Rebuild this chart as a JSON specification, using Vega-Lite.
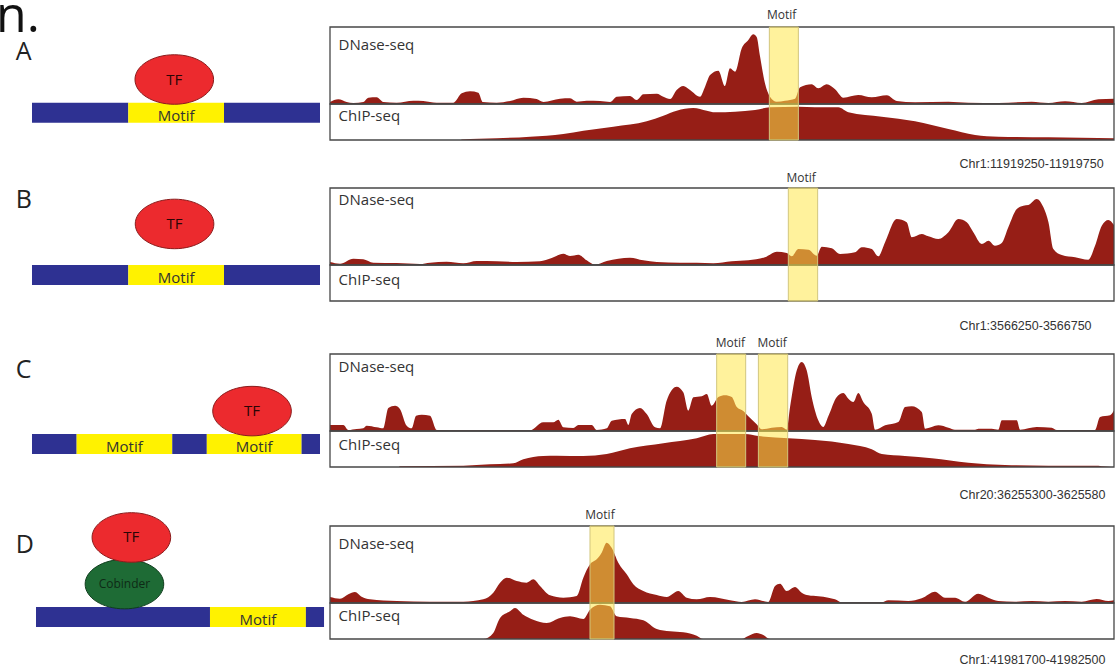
{
"$schema":"https://vega.github.io/schema/vega-lite/v6.json",
"background":"white","padding":0,"autosize":{"type":"pad"},
"columns":2,"spacing":{"row":0,"column":10},"align":"each","bounds":"flush",
"config":{"view":{"stroke":null},"font":"Open Sans"},
"datasets":{
"segments":[
{"row":"A","kind":"DNA","start":0,"end":33.44},{"row":"A","kind":"Motif","start":33.44,"end":66.67,"mid":50.06},{"row":"A","kind":"DNA","start":66.67,"end":100},
{"row":"B","kind":"DNA","start":0,"end":33.44},{"row":"B","kind":"Motif","start":33.44,"end":66.67,"mid":50.06},{"row":"B","kind":"DNA","start":66.67,"end":100},
{"row":"C","kind":"DNA","start":0,"end":15.5},{"row":"C","kind":"Motif","start":15.5,"end":48.7,"mid":32.1},{"row":"C","kind":"DNA","start":48.7,"end":60.7},{"row":"C","kind":"Motif","start":60.7,"end":93.6,"mid":77.15},{"row":"C","kind":"DNA","start":93.6,"end":100},
{"row":"D","kind":"DNA","start":1.39,"end":61.8},{"row":"D","kind":"Motif","start":61.8,"end":95.1,"mid":78.45},{"row":"D","kind":"DNA","start":95.1,"end":101.4}
],
"proteins":[
{"row":"A","name":"TF","x":49.4,"y":15.0},{"row":"B","name":"TF","x":49.5,"y":21.2},{"row":"C","name":"TF","x":76.4,"y":14.9},
{"row":"D","name":"Cobinder","x":32.1,"y":14.9},{"row":"D","name":"TF","x":34.5,"y":31.1}
],
"motifs":[
{"row":"A","label":"Motif","start":280.2,"end":298.7,"center":288},
{"row":"B","label":"Motif","start":292.3,"end":311.0,"center":300.5},
{"row":"C","label":"Motif","start":246.6,"end":265.1,"center":255.3},
{"row":"C","label":"Motif","start":273.2,"end":291.9,"center":282},
{"row":"D","label":"Motif","start":265.3,"end":289.8,"center":275.5}
],
"dnase":[
{"row":"A","bp":0,"signal":2},{"row":"A","bp":5.3,"signal":4.7},{"row":"A","bp":10.6,"signal":2},{"row":"A","bp":14.9,"signal":1},{"row":"A","bp":21.3,"signal":2},{"row":"A","bp":24.5,"signal":6.3},{"row":"A","bp":29.8,"signal":6.7},{"row":"A","bp":34,"signal":2},{"row":"A","bp":42.5,"signal":1.3},{"row":"A","bp":53.2,"signal":3.3},{"row":"A","bp":59.5,"signal":3},{"row":"A","bp":68,"signal":1.3},{"row":"A","bp":78.7,"signal":1.3},{"row":"A","bp":84,"signal":10.7},{"row":"A","bp":89.3,"signal":12.7},{"row":"A","bp":94.6,"signal":11.3},{"row":"A","bp":97.4,"signal":2},{"row":"A","bp":106.3,"signal":1.3},{"row":"A","bp":114.8,"signal":3},{"row":"A","bp":123.3,"signal":6.3},{"row":"A","bp":131.8,"signal":5},{"row":"A","bp":136.1,"signal":2},{"row":"A","bp":146.7,"signal":5.3},{"row":"A","bp":153.1,"signal":5.7},{"row":"A","bp":157.3,"signal":2.3},{"row":"A","bp":163.7,"signal":3.3},{"row":"A","bp":172.2,"signal":3},{"row":"A","bp":178.6,"signal":2},{"row":"A","bp":182.9,"signal":7.3},{"row":"A","bp":191.3,"signal":8},{"row":"A","bp":195.6,"signal":4},{"row":"A","bp":199.8,"signal":9.7},{"row":"A","bp":208.4,"signal":10.3},{"row":"A","bp":212.6,"signal":7.3},{"row":"A","bp":216.9,"signal":5},{"row":"A","bp":221.1,"signal":14},{"row":"A","bp":225.3,"signal":18},{"row":"A","bp":229.6,"signal":14},{"row":"A","bp":236,"signal":7.3},{"row":"A","bp":239.2,"signal":17.3},{"row":"A","bp":242.4,"signal":29},{"row":"A","bp":247.7,"signal":33.3},{"row":"A","bp":251.9,"signal":18},{"row":"A","bp":255.1,"signal":35.7},{"row":"A","bp":258.3,"signal":32.3},{"row":"A","bp":262.6,"signal":55.7},{"row":"A","bp":266.8,"signal":64},{"row":"A","bp":270,"signal":69.7},{"row":"A","bp":272.1,"signal":67},{"row":"A","bp":274.3,"signal":47.3},{"row":"A","bp":277.4,"signal":20.7},{"row":"A","bp":280.6,"signal":7.3},{"row":"A","bp":284.9,"signal":2.3},{"row":"A","bp":290.2,"signal":3.3},{"row":"A","bp":296.6,"signal":5.3},{"row":"A","bp":299.8,"signal":16.7},{"row":"A","bp":307.2,"signal":19.7},{"row":"A","bp":311.4,"signal":15.7},{"row":"A","bp":316.8,"signal":19.7},{"row":"A","bp":322.1,"signal":14.7},{"row":"A","bp":327.4,"signal":6.3},{"row":"A","bp":336.9,"signal":9},{"row":"A","bp":345.5,"signal":6.7},{"row":"A","bp":355.1,"signal":8.7},{"row":"A","bp":361.4,"signal":3},{"row":"A","bp":373.1,"signal":1.7},{"row":"A","bp":394.4,"signal":2.3},{"row":"A","bp":407.1,"signal":1.3},{"row":"A","bp":426.3,"signal":1},{"row":"A","bp":447.5,"signal":2.3},{"row":"A","bp":458.2,"signal":1},{"row":"A","bp":468.8,"signal":2.7},{"row":"A","bp":479.4,"signal":1},{"row":"A","bp":490,"signal":4.7},{"row":"A","bp":500,"signal":5.3},
{"row":"B","bp":0,"signal":3},{"row":"B","bp":6.4,"signal":1.3},{"row":"B","bp":14.9,"signal":6.3},{"row":"B","bp":21.2,"signal":5.7},{"row":"B","bp":27.6,"signal":2.3},{"row":"B","bp":42.5,"signal":2},{"row":"B","bp":57.4,"signal":1},{"row":"B","bp":63.8,"signal":2.3},{"row":"B","bp":74.4,"signal":3.3},{"row":"B","bp":85,"signal":1.7},{"row":"B","bp":93.6,"signal":4},{"row":"B","bp":106.3,"signal":3.7},{"row":"B","bp":119.1,"signal":3},{"row":"B","bp":133.9,"signal":3.7},{"row":"B","bp":141.4,"signal":7},{"row":"B","bp":148.8,"signal":11.3},{"row":"B","bp":153.1,"signal":9},{"row":"B","bp":158.4,"signal":10.3},{"row":"B","bp":163.7,"signal":4.7},{"row":"B","bp":169,"signal":0.3},{"row":"B","bp":176.5,"signal":4},{"row":"B","bp":191.3,"signal":7.3},{"row":"B","bp":199.8,"signal":4.7},{"row":"B","bp":208.4,"signal":3},{"row":"B","bp":223.2,"signal":2.3},{"row":"B","bp":233.9,"signal":2.3},{"row":"B","bp":244.5,"signal":1.7},{"row":"B","bp":256.2,"signal":3.7},{"row":"B","bp":266.8,"signal":4.7},{"row":"B","bp":277.4,"signal":7.7},{"row":"B","bp":284.9,"signal":13.3},{"row":"B","bp":291.3,"signal":12},{"row":"B","bp":294.5,"signal":8.7},{"row":"B","bp":298.7,"signal":16},{"row":"B","bp":305.1,"signal":15.3},{"row":"B","bp":310.4,"signal":9.3},{"row":"B","bp":313.6,"signal":18.3},{"row":"B","bp":320,"signal":16.7},{"row":"B","bp":325.3,"signal":11},{"row":"B","bp":334.8,"signal":12.7},{"row":"B","bp":339.1,"signal":17.7},{"row":"B","bp":345.5,"signal":16},{"row":"B","bp":349.7,"signal":8.7},{"row":"B","bp":354,"signal":22.7},{"row":"B","bp":361.4,"signal":46},{"row":"B","bp":367.8,"signal":42.7},{"row":"B","bp":371,"signal":27.7},{"row":"B","bp":377.4,"signal":31},{"row":"B","bp":381.6,"signal":28.7},{"row":"B","bp":388,"signal":26},{"row":"B","bp":394.4,"signal":32.7},{"row":"B","bp":400.7,"signal":46},{"row":"B","bp":406.1,"signal":42.7},{"row":"B","bp":410.3,"signal":32.7},{"row":"B","bp":415.7,"signal":21},{"row":"B","bp":419.9,"signal":24.3},{"row":"B","bp":424.1,"signal":19.3},{"row":"B","bp":428.4,"signal":22},{"row":"B","bp":432.6,"signal":37.7},{"row":"B","bp":438,"signal":56},{"row":"B","bp":442.2,"signal":59.3},{"row":"B","bp":445.4,"signal":60},{"row":"B","bp":450.7,"signal":66},{"row":"B","bp":455,"signal":57.7},{"row":"B","bp":458.2,"signal":42.7},{"row":"B","bp":461.3,"signal":16},{"row":"B","bp":466.7,"signal":10},{"row":"B","bp":475.2,"signal":7.7},{"row":"B","bp":483.6,"signal":5.3},{"row":"B","bp":487.9,"signal":19.3},{"row":"B","bp":492.2,"signal":39.3},{"row":"B","bp":496.4,"signal":45},{"row":"B","bp":500,"signal":40},
{"row":"C","bp":0,"signal":6},{"row":"C","bp":8.5,"signal":6},{"row":"C","bp":11.7,"signal":1},{"row":"C","bp":17,"signal":2},{"row":"C","bp":21.2,"signal":2.7},{"row":"C","bp":23.4,"signal":5.3},{"row":"C","bp":29.8,"signal":3.7},{"row":"C","bp":34,"signal":2.7},{"row":"C","bp":37.2,"signal":23},{"row":"C","bp":41.5,"signal":25.3},{"row":"C","bp":44.6,"signal":22},{"row":"C","bp":48.9,"signal":5.3},{"row":"C","bp":52.1,"signal":2.7},{"row":"C","bp":54.9,"signal":15.3},{"row":"C","bp":58.5,"signal":16.3},{"row":"C","bp":63.8,"signal":15.3},{"row":"C","bp":68.1,"signal":1},{"row":"C","bp":85,"signal":0.7},{"row":"C","bp":106.3,"signal":0.7},{"row":"C","bp":127.6,"signal":0.7},{"row":"C","bp":136,"signal":8.7},{"row":"C","bp":142.4,"signal":8.7},{"row":"C","bp":145.6,"signal":11.3},{"row":"C","bp":148.8,"signal":3.7},{"row":"C","bp":155.2,"signal":3},{"row":"C","bp":158.4,"signal":6},{"row":"C","bp":166.9,"signal":6},{"row":"C","bp":170.1,"signal":1},{"row":"C","bp":176.5,"signal":2.7},{"row":"C","bp":179.7,"signal":10.3},{"row":"C","bp":188.2,"signal":12},{"row":"C","bp":190.3,"signal":6},{"row":"C","bp":192.4,"signal":17},{"row":"C","bp":197.7,"signal":23},{"row":"C","bp":202,"signal":17},{"row":"C","bp":207.3,"signal":3.7},{"row":"C","bp":210.5,"signal":2.7},{"row":"C","bp":214.7,"signal":30.3},{"row":"C","bp":221.1,"signal":44.3},{"row":"C","bp":225.3,"signal":38.7},{"row":"C","bp":228.5,"signal":20.3},{"row":"C","bp":231.7,"signal":33.7},{"row":"C","bp":237.1,"signal":34.7},{"row":"C","bp":240.3,"signal":37},{"row":"C","bp":243.4,"signal":25.3},{"row":"C","bp":247.7,"signal":34},{"row":"C","bp":251.9,"signal":35.7},{"row":"C","bp":256.2,"signal":34},{"row":"C","bp":259.4,"signal":24},{"row":"C","bp":263.6,"signal":20},{"row":"C","bp":266.8,"signal":14.7},{"row":"C","bp":272.1,"signal":6.7},{"row":"C","bp":275.3,"signal":1.7},{"row":"C","bp":281.7,"signal":3.3},{"row":"C","bp":288.1,"signal":4},{"row":"C","bp":291.3,"signal":1.3},{"row":"C","bp":293.4,"signal":24},{"row":"C","bp":297.7,"signal":60.7},{"row":"C","bp":300.8,"signal":69},{"row":"C","bp":304,"signal":60.7},{"row":"C","bp":307.2,"signal":34},{"row":"C","bp":311.4,"signal":10.7},{"row":"C","bp":314.6,"signal":4},{"row":"C","bp":317.8,"signal":14.7},{"row":"C","bp":323.2,"signal":34},{"row":"C","bp":327.4,"signal":38},{"row":"C","bp":330.6,"signal":32.3},{"row":"C","bp":333.8,"signal":29},{"row":"C","bp":336.9,"signal":38},{"row":"C","bp":340.1,"signal":29},{"row":"C","bp":345.5,"signal":17.3},{"row":"C","bp":347.6,"signal":1.3},{"row":"C","bp":354,"signal":5.7},{"row":"C","bp":362.5,"signal":9},{"row":"C","bp":366.7,"signal":24},{"row":"C","bp":371,"signal":24.7},{"row":"C","bp":377.4,"signal":19},{"row":"C","bp":379.5,"signal":2.3},{"row":"C","bp":388,"signal":5.7},{"row":"C","bp":394.4,"signal":3.3},{"row":"C","bp":398.6,"signal":1.3},{"row":"C","bp":411.4,"signal":1.3},{"row":"C","bp":413.5,"signal":2.3},{"row":"C","bp":422,"signal":2.3},{"row":"C","bp":426.2,"signal":1.3},{"row":"C","bp":428.4,"signal":10.7},{"row":"C","bp":438,"signal":10.7},{"row":"C","bp":440.1,"signal":1.3},{"row":"C","bp":450.7,"signal":4},{"row":"C","bp":460.3,"signal":3.3},{"row":"C","bp":463.5,"signal":1},{"row":"C","bp":487.9,"signal":1},{"row":"C","bp":491.1,"signal":14},{"row":"C","bp":497.5,"signal":15.7},{"row":"C","bp":500,"signal":20.7},
{"row":"D","bp":0,"signal":6},{"row":"D","bp":10.2,"signal":4.3},{"row":"D","bp":18.7,"signal":8.7},{"row":"D","bp":25.5,"signal":11},{"row":"D","bp":32.3,"signal":6.3},{"row":"D","bp":40.8,"signal":3.7},{"row":"D","bp":68.1,"signal":2},{"row":"D","bp":102,"signal":1.3},{"row":"D","bp":136,"signal":1.3},{"row":"D","bp":156.4,"signal":3.7},{"row":"D","bp":166.6,"signal":10.3},{"row":"D","bp":173.5,"signal":20.3},{"row":"D","bp":180.3,"signal":25.3},{"row":"D","bp":190.5,"signal":22},{"row":"D","bp":200.7,"signal":20.3},{"row":"D","bp":207.4,"signal":23.7},{"row":"D","bp":214.3,"signal":17},{"row":"D","bp":224.5,"signal":7.7},{"row":"D","bp":238.1,"signal":5.3},{"row":"D","bp":251.7,"signal":7},{"row":"D","bp":258.5,"signal":25.3},{"row":"D","bp":265.3,"signal":38.7},{"row":"D","bp":272.1,"signal":43.7},{"row":"D","bp":277.2,"signal":50.3},{"row":"D","bp":282.3,"signal":60.3},{"row":"D","bp":287.4,"signal":55.3},{"row":"D","bp":294.2,"signal":40.3},{"row":"D","bp":302.8,"signal":28.7},{"row":"D","bp":309.5,"signal":18.7},{"row":"D","bp":319.7,"signal":12},{"row":"D","bp":333.4,"signal":8},{"row":"D","bp":343.6,"signal":6},{"row":"D","bp":355.4,"signal":12},{"row":"D","bp":364,"signal":5.3},{"row":"D","bp":374.2,"signal":3.7},{"row":"D","bp":387.8,"signal":6},{"row":"D","bp":408.2,"signal":2.7},{"row":"D","bp":420.1,"signal":1},{"row":"D","bp":433.7,"signal":3.7},{"row":"D","bp":447.2,"signal":1},{"row":"D","bp":454.1,"signal":17},{"row":"D","bp":459.2,"signal":19.3},{"row":"D","bp":466,"signal":12},{"row":"D","bp":474.5,"signal":16},{"row":"D","bp":481.3,"signal":10.3},{"row":"D","bp":488.1,"signal":7.7},{"row":"D","bp":498.3,"signal":6.7},{"row":"D","bp":508.5,"signal":5.3},{"row":"D","bp":515.3,"signal":3.7},{"row":"D","bp":522.1,"signal":0.7},{"row":"D","bp":563,"signal":0.7},{"row":"D","bp":569.7,"signal":2.7},{"row":"D","bp":590.1,"signal":2},{"row":"D","bp":603.8,"signal":4.7},{"row":"D","bp":617.3,"signal":11.3},{"row":"D","bp":627.6,"signal":5.3},{"row":"D","bp":637.8,"signal":5.3},{"row":"D","bp":648,"signal":1.3},{"row":"D","bp":661.5,"signal":9.3},{"row":"D","bp":671.7,"signal":5.3},{"row":"D","bp":681.9,"signal":2},{"row":"D","bp":699,"signal":1.3},{"row":"D","bp":716,"signal":2},{"row":"D","bp":733,"signal":1.3},{"row":"D","bp":750,"signal":2},{"row":"D","bp":767,"signal":1.3},{"row":"D","bp":782.3,"signal":4},{"row":"D","bp":794.2,"signal":2},{"row":"D","bp":800,"signal":2.7}
],
"chip":[
{"row":"A","bp":0,"signal":0},{"row":"A","bp":83.5,"signal":0},{"row":"A","bp":84,"signal":0.5},{"row":"A","bp":106.3,"signal":1.7},{"row":"A","bp":127.6,"signal":3.3},{"row":"A","bp":148.8,"signal":6},{"row":"A","bp":161.6,"signal":9.3},{"row":"A","bp":180.7,"signal":13.3},{"row":"A","bp":202,"signal":18.7},{"row":"A","bp":212.6,"signal":24.3},{"row":"A","bp":221.1,"signal":29.3},{"row":"A","bp":231.7,"signal":32},{"row":"A","bp":240.3,"signal":29.3},{"row":"A","bp":245.6,"signal":27.7},{"row":"A","bp":258.3,"signal":28.3},{"row":"A","bp":271.1,"signal":30},{"row":"A","bp":280.6,"signal":32.7},{"row":"A","bp":298.7,"signal":33.3},{"row":"A","bp":309.3,"signal":32.7},{"row":"A","bp":324.2,"signal":32.7},{"row":"A","bp":330.6,"signal":27.7},{"row":"A","bp":351.9,"signal":23.3},{"row":"A","bp":373.1,"signal":18.7},{"row":"A","bp":394.4,"signal":11},{"row":"A","bp":411.4,"signal":5},{"row":"A","bp":426.3,"signal":3.3},{"row":"A","bp":458.2,"signal":2.7},{"row":"A","bp":479.4,"signal":2.3},{"row":"A","bp":500,"signal":1.7},
{"row":"C","bp":0,"signal":0},{"row":"C","bp":44,"signal":0},{"row":"C","bp":44.6,"signal":0.7},{"row":"C","bp":85,"signal":1.3},{"row":"C","bp":102,"signal":2.7},{"row":"C","bp":116.9,"signal":3.7},{"row":"C","bp":123.3,"signal":7.7},{"row":"C","bp":136,"signal":11},{"row":"C","bp":144.6,"signal":11.3},{"row":"C","bp":161.6,"signal":11},{"row":"C","bp":176.5,"signal":13},{"row":"C","bp":191.3,"signal":18.7},{"row":"C","bp":212.6,"signal":23.7},{"row":"C","bp":233.9,"signal":28.7},{"row":"C","bp":244.5,"signal":33},{"row":"C","bp":264.7,"signal":33},{"row":"C","bp":273.2,"signal":31},{"row":"C","bp":292.3,"signal":28.7},{"row":"C","bp":309.3,"signal":27},{"row":"C","bp":330.6,"signal":23},{"row":"C","bp":345.5,"signal":17.7},{"row":"C","bp":351.9,"signal":13},{"row":"C","bp":366.7,"signal":11},{"row":"C","bp":383.8,"signal":8.7},{"row":"C","bp":407.1,"signal":4.3},{"row":"C","bp":430.5,"signal":2},{"row":"C","bp":458.2,"signal":1.3},{"row":"C","bp":487.9,"signal":1.3},{"row":"C","bp":496.4,"signal":0.3},{"row":"C","bp":500,"signal":0},
{"row":"D","bp":0,"signal":0},{"row":"D","bp":156.4,"signal":0},{"row":"D","bp":166.6,"signal":6},{"row":"D","bp":173.5,"signal":21},{"row":"D","bp":183.7,"signal":27.7},{"row":"D","bp":188.8,"signal":31},{"row":"D","bp":197.2,"signal":24.3},{"row":"D","bp":207.4,"signal":19.3},{"row":"D","bp":221.1,"signal":16},{"row":"D","bp":234.7,"signal":21},{"row":"D","bp":244.9,"signal":22.7},{"row":"D","bp":258.5,"signal":20},{"row":"D","bp":265.3,"signal":29.3},{"row":"D","bp":275.5,"signal":34.3},{"row":"D","bp":285.7,"signal":32.7},{"row":"D","bp":292.5,"signal":22.7},{"row":"D","bp":306.1,"signal":21},{"row":"D","bp":319.7,"signal":18.7},{"row":"D","bp":333.4,"signal":10},{"row":"D","bp":347,"signal":7.7},{"row":"D","bp":360.5,"signal":6.7},{"row":"D","bp":374.2,"signal":3.3},{"row":"D","bp":380.9,"signal":0},{"row":"D","bp":420.1,"signal":0},{"row":"D","bp":426.8,"signal":3},{"row":"D","bp":435.4,"signal":6},{"row":"D","bp":442.1,"signal":4},{"row":"D","bp":449,"signal":0},{"row":"D","bp":800,"signal":0}
]
},
"concat":[
{"width":320,"height":166,"layer":[
 {"data":{"name":"segments"},"transform":[{"filter":"datum.row==='A'"}],"mark":{"type":"rect"},"encoding":{"x":{"field":"start","type":"quantitative","scale":{"domain":[-11.11,100]},"axis":null},"x2":{"field":"end"},"y":{"datum":0,"type":"quantitative","scale":{"domain":[-15.03,42.6]},"axis":null},"y2":{"datum":6.94},"color":{"field":"kind","type":"nominal","scale":{"domain":["DNA","Motif"],"range":["#2e3192","#fff200"]},"legend":null}}},
 {"data":{"name":"segments"},"transform":[{"filter":"datum.row==='A' && datum.kind==='Motif'"}],"mark":{"type":"text","fontSize":15,"color":"#333","baseline":"alphabetic"},"encoding":{"x":{"field":"mid","type":"quantitative","scale":{"domain":[-11.11,100]},"axis":null},"y":{"datum":0.6,"type":"quantitative","scale":{"domain":[-15.03,42.6]},"axis":null},"text":{"field":"kind"}}},
 {"data":{"name":"proteins"},"transform":[{"filter":"datum.row==='A'"}],"mark":{"type":"point","shape":"M-1,0A1,0.63,0,1,1,1,0A1,0.63,0,1,1,-1,0Z","size":6178,"filled":true,"opacity":1,"strokeWidth":1},"encoding":{"x":{"field":"x","type":"quantitative","scale":{"domain":[-11.11,100]},"axis":null},"y":{"field":"y","type":"quantitative","scale":{"domain":[-15.03,42.6]},"axis":null},"fill":{"field":"name","type":"nominal","scale":{"domain":["TF","Cobinder"],"range":["#ec2a2e","#1e6b35"]},"legend":null},"stroke":{"field":"name","type":"nominal","scale":{"domain":["TF","Cobinder"],"range":["#8a1c1c","#0f3d1d"]},"legend":null}}},
 {"data":{"name":"proteins"},"transform":[{"filter":"datum.row==='A'"}],"mark":{"type":"text","fontSize":15,"color":"#2a0505","baseline":"middle"},"encoding":{"x":{"field":"x","type":"quantitative","scale":{"domain":[-11.11,100]},"axis":null},"y":{"field":"y","type":"quantitative","scale":{"domain":[-15.03,42.6]},"axis":null},"text":{"field":"name"}}},
 {"data":{"values":[{"label":"A"}]},"mark":{"type":"text","fontSize":25,"color":"#222","align":"left","baseline":"alphabetic"},"encoding":{"x":{"datum":-5.6,"type":"quantitative","scale":{"domain":[-11.11,100]},"axis":null},"y":{"datum":21.8,"type":"quantitative","scale":{"domain":[-15.03,42.6]},"axis":null},"text":{"field":"label"}}},
 {"data":{"values":[{"label":"n."}]},"mark":{"type":"text","fontSize":50,"color":"#111","align":"left","baseline":"alphabetic","clip":true},"encoding":{"x":{"datum":-12.5,"type":"quantitative","scale":{"domain":[-11.11,100]},"axis":null},"y":{"datum":31.5,"type":"quantitative","scale":{"domain":[-15.03,42.6]},"axis":null},"text":{"field":"label"}}}
]},
{"width":784,"height":140,"resolve":{"scale":{"y":"independent"}},"layer":[
 {"data":{"name":"dnase"},"transform":[{"filter":"datum.row==='A'"}],"mark":{"type":"area","color":"#961e16","interpolate":"monotone"},"encoding":{"x":{"field":"bp","type":"quantitative","scale":{"domain":[0,500]},"axis":{"title":"Chr1:11919250-11919750","labels":false,"ticks":false,"domain":false,"grid":false,"titleX":629,"titleY":27.7,"titleAlign":"left","titleBaseline":"alphabetic","titleFont":"Liberation Sans","titleFontSize":12.5,"titleFontWeight":"normal","titleColor":"#333"}},"y":{"field":"signal","type":"quantitative","scale":{"domain":[-36,104]},"axis":null}}},
 {"data":{"name":"chip"},"transform":[{"filter":"datum.row==='A'"}],"mark":{"type":"area","color":"#961e16","interpolate":"monotone"},"encoding":{"x":{"field":"bp","type":"quantitative","scale":{"domain":[0,500]},"axis":{"title":"Chr1:11919250-11919750","labels":false,"ticks":false,"domain":false,"grid":false,"titleX":629,"titleY":27.7,"titleAlign":"left","titleBaseline":"alphabetic","titleFont":"Liberation Sans","titleFontSize":12.5,"titleFontWeight":"normal","titleColor":"#333"}},"y":{"field":"signal","type":"quantitative","scale":{"domain":[0,140]},"axis":null}}},
 {"data":{"values":[{"track":"DNase-seq"}]},"mark":{"type":"rect","filled":false,"stroke":"#474747","strokeWidth":1.3},"encoding":{"x":{"datum":0,"type":"quantitative","scale":{"domain":[0,500]}},"x2":{"datum":500},"y":{"datum":0,"type":"quantitative","scale":{"domain":[-36,104]},"axis":null},"y2":{"datum":77}}},
 {"data":{"values":[{"track":"ChIP-seq"}]},"mark":{"type":"rect","filled":false,"stroke":"#474747","strokeWidth":1.3},"encoding":{"x":{"datum":0,"type":"quantitative","scale":{"domain":[0,500]}},"x2":{"datum":500},"y":{"datum":-36,"type":"quantitative","scale":{"domain":[-36,104]},"axis":null},"y2":{"datum":0}}},
 {"data":{"name":"motifs"},"transform":[{"filter":"datum.row==='A'"}],"mark":{"type":"rect","fill":"#ffe84a","fillOpacity":0.55,"stroke":"#d2c67e","strokeWidth":1},"encoding":{"x":{"field":"start","type":"quantitative","scale":{"domain":[0,500]}},"x2":{"field":"end"},"y":{"datum":-36,"type":"quantitative","scale":{"domain":[-36,104]},"axis":null},"y2":{"datum":77}}},
 {"data":{"name":"motifs"},"transform":[{"filter":"datum.row==='A'"}],"mark":{"type":"text","fontSize":12,"color":"#333","baseline":"middle"},"encoding":{"x":{"field":"center","type":"quantitative","scale":{"domain":[0,500]}},"y":{"datum":89,"type":"quantitative","scale":{"domain":[-36,104]},"axis":null},"text":{"field":"label"}}},
 {"data":{"values":[{"track":"DNase-seq"}]},"mark":{"type":"text","fontSize":15,"color":"#333","align":"left","baseline":"alphabetic"},"encoding":{"x":{"datum":5.5,"type":"quantitative","scale":{"domain":[0,500]}},"y":{"datum":54,"type":"quantitative","scale":{"domain":[-36,104]},"axis":null},"text":{"field":"track"}}},
 {"data":{"values":[{"track":"ChIP-seq"}]},"mark":{"type":"text","fontSize":15,"color":"#333","align":"left","baseline":"alphabetic"},"encoding":{"x":{"datum":5.5,"type":"quantitative","scale":{"domain":[0,500]}},"y":{"datum":-17,"type":"quantitative","scale":{"domain":[-36,104]},"axis":null},"text":{"field":"track"}}}
]},
{"width":320,"height":166,"layer":[
 {"data":{"name":"segments"},"transform":[{"filter":"datum.row==='B'"}],"mark":{"type":"rect"},"encoding":{"x":{"field":"start","type":"quantitative","scale":{"domain":[-11.11,100]},"axis":null},"x2":{"field":"end"},"y":{"datum":0,"type":"quantitative","scale":{"domain":[-16.32,41.32]},"axis":null},"y2":{"datum":6.94},"color":{"field":"kind","type":"nominal","scale":{"domain":["DNA","Motif"],"range":["#2e3192","#fff200"]},"legend":null}}},
 {"data":{"name":"segments"},"transform":[{"filter":"datum.row==='B' && datum.kind==='Motif'"}],"mark":{"type":"text","fontSize":15,"color":"#333","baseline":"alphabetic"},"encoding":{"x":{"field":"mid","type":"quantitative","scale":{"domain":[-11.11,100]},"axis":null},"y":{"datum":0.6,"type":"quantitative","scale":{"domain":[-16.32,41.32]},"axis":null},"text":{"field":"kind"}}},
 {"data":{"name":"proteins"},"transform":[{"filter":"datum.row==='B'"}],"mark":{"type":"point","shape":"M-1,0A1,0.63,0,1,1,1,0A1,0.63,0,1,1,-1,0Z","size":6178,"filled":true,"opacity":1,"strokeWidth":1},"encoding":{"x":{"field":"x","type":"quantitative","scale":{"domain":[-11.11,100]},"axis":null},"y":{"field":"y","type":"quantitative","scale":{"domain":[-16.32,41.32]},"axis":null},"fill":{"field":"name","type":"nominal","scale":{"domain":["TF","Cobinder"],"range":["#ec2a2e","#1e6b35"]},"legend":null},"stroke":{"field":"name","type":"nominal","scale":{"domain":["TF","Cobinder"],"range":["#8a1c1c","#0f3d1d"]},"legend":null}}},
 {"data":{"name":"proteins"},"transform":[{"filter":"datum.row==='B'"}],"mark":{"type":"text","fontSize":15,"color":"#2a0505","baseline":"middle"},"encoding":{"x":{"field":"x","type":"quantitative","scale":{"domain":[-11.11,100]},"axis":null},"y":{"field":"y","type":"quantitative","scale":{"domain":[-16.32,41.32]},"axis":null},"text":{"field":"name"}}},
 {"data":{"values":[{"label":"B"}]},"mark":{"type":"text","fontSize":25,"color":"#222","align":"left","baseline":"alphabetic"},"encoding":{"x":{"datum":-5.6,"type":"quantitative","scale":{"domain":[-11.11,100]},"axis":null},"y":{"datum":26.7,"type":"quantitative","scale":{"domain":[-16.32,41.32]},"axis":null},"text":{"field":"label"}}}
]},
{"width":784,"height":135,"resolve":{"scale":{"y":"independent"}},"layer":[
 {"data":{"name":"dnase"},"transform":[{"filter":"datum.row==='B'"}],"mark":{"type":"area","color":"#961e16","interpolate":"monotone"},"encoding":{"x":{"field":"bp","type":"quantitative","scale":{"domain":[0,500]},"axis":{"title":"Chr1:3566250-3566750","labels":false,"ticks":false,"domain":false,"grid":false,"titleX":629,"titleY":28,"titleAlign":"left","titleBaseline":"alphabetic","titleFont":"Liberation Sans","titleFontSize":12.5,"titleFontWeight":"normal","titleColor":"#333"}},"y":{"field":"signal","type":"quantitative","scale":{"domain":[-36,99]},"axis":null}}},
 {"data":{"values":[{"track":"DNase-seq"}]},"mark":{"type":"rect","filled":false,"stroke":"#474747","strokeWidth":1.3},"encoding":{"x":{"datum":0,"type":"quantitative","scale":{"domain":[0,500]}},"x2":{"datum":500},"y":{"datum":0,"type":"quantitative","scale":{"domain":[-36,99]},"axis":null},"y2":{"datum":77}}},
 {"data":{"values":[{"track":"ChIP-seq"}]},"mark":{"type":"rect","filled":false,"stroke":"#474747","strokeWidth":1.3},"encoding":{"x":{"datum":0,"type":"quantitative","scale":{"domain":[0,500]}},"x2":{"datum":500},"y":{"datum":-36,"type":"quantitative","scale":{"domain":[-36,99]},"axis":null},"y2":{"datum":0}}},
 {"data":{"name":"motifs"},"transform":[{"filter":"datum.row==='B'"}],"mark":{"type":"rect","fill":"#ffe84a","fillOpacity":0.55,"stroke":"#d2c67e","strokeWidth":1},"encoding":{"x":{"field":"start","type":"quantitative","scale":{"domain":[0,500]}},"x2":{"field":"end"},"y":{"datum":-36,"type":"quantitative","scale":{"domain":[-36,99]},"axis":null},"y2":{"datum":77}}},
 {"data":{"name":"motifs"},"transform":[{"filter":"datum.row==='B'"}],"mark":{"type":"text","fontSize":12,"color":"#333","baseline":"middle"},"encoding":{"x":{"field":"center","type":"quantitative","scale":{"domain":[0,500]}},"y":{"datum":87,"type":"quantitative","scale":{"domain":[-36,99]},"axis":null},"text":{"field":"label"}}},
 {"data":{"values":[{"track":"DNase-seq"}]},"mark":{"type":"text","fontSize":15,"color":"#333","align":"left","baseline":"alphabetic"},"encoding":{"x":{"datum":5.5,"type":"quantitative","scale":{"domain":[0,500]}},"y":{"datum":60,"type":"quantitative","scale":{"domain":[-36,99]},"axis":null},"text":{"field":"track"}}},
 {"data":{"values":[{"track":"ChIP-seq"}]},"mark":{"type":"text","fontSize":15,"color":"#333","align":"left","baseline":"alphabetic"},"encoding":{"x":{"datum":5.5,"type":"quantitative","scale":{"domain":[0,500]}},"y":{"datum":-20,"type":"quantitative","scale":{"domain":[-36,99]},"axis":null},"text":{"field":"track"}}}
]},
{"width":320,"height":172,"layer":[
 {"data":{"name":"segments"},"transform":[{"filter":"datum.row==='C'"}],"mark":{"type":"rect"},"encoding":{"x":{"field":"start","type":"quantitative","scale":{"domain":[-11.11,100]},"axis":null},"x2":{"field":"end"},"y":{"datum":0,"type":"quantitative","scale":{"domain":[-17.36,42.36]},"axis":null},"y2":{"datum":6.94},"color":{"field":"kind","type":"nominal","scale":{"domain":["DNA","Motif"],"range":["#2e3192","#fff200"]},"legend":null}}},
 {"data":{"name":"segments"},"transform":[{"filter":"datum.row==='C' && datum.kind==='Motif'"}],"mark":{"type":"text","fontSize":15,"color":"#333","baseline":"alphabetic"},"encoding":{"x":{"field":"mid","type":"quantitative","scale":{"domain":[-11.11,100]},"axis":null},"y":{"datum":0.6,"type":"quantitative","scale":{"domain":[-17.36,42.36]},"axis":null},"text":{"field":"kind"}}},
 {"data":{"name":"proteins"},"transform":[{"filter":"datum.row==='C'"}],"mark":{"type":"point","shape":"M-1,0A1,0.63,0,1,1,1,0A1,0.63,0,1,1,-1,0Z","size":6178,"filled":true,"opacity":1,"strokeWidth":1},"encoding":{"x":{"field":"x","type":"quantitative","scale":{"domain":[-11.11,100]},"axis":null},"y":{"field":"y","type":"quantitative","scale":{"domain":[-17.36,42.36]},"axis":null},"fill":{"field":"name","type":"nominal","scale":{"domain":["TF","Cobinder"],"range":["#ec2a2e","#1e6b35"]},"legend":null},"stroke":{"field":"name","type":"nominal","scale":{"domain":["TF","Cobinder"],"range":["#8a1c1c","#0f3d1d"]},"legend":null}}},
 {"data":{"name":"proteins"},"transform":[{"filter":"datum.row==='C'"}],"mark":{"type":"text","fontSize":15,"color":"#2a0505","baseline":"middle"},"encoding":{"x":{"field":"x","type":"quantitative","scale":{"domain":[-11.11,100]},"axis":null},"y":{"field":"y","type":"quantitative","scale":{"domain":[-17.36,42.36]},"axis":null},"text":{"field":"name"}}},
 {"data":{"values":[{"label":"C"}]},"mark":{"type":"text","fontSize":25,"color":"#222","align":"left","baseline":"alphabetic"},"encoding":{"x":{"datum":-5.6,"type":"quantitative","scale":{"domain":[-11.11,100]},"axis":null},"y":{"datum":26.4,"type":"quantitative","scale":{"domain":[-17.36,42.36]},"axis":null},"text":{"field":"label"}}}
]},
{"width":784,"height":135,"resolve":{"scale":{"y":"independent"}},"layer":[
 {"data":{"name":"dnase"},"transform":[{"filter":"datum.row==='C'"}],"mark":{"type":"area","color":"#961e16","interpolate":"monotone"},"encoding":{"x":{"field":"bp","type":"quantitative","scale":{"domain":[0,500]},"axis":{"title":"Chr20:36255300-3625580","labels":false,"ticks":false,"domain":false,"grid":false,"titleX":629,"titleY":31,"titleAlign":"left","titleBaseline":"alphabetic","titleFont":"Liberation Sans","titleFontSize":12.5,"titleFontWeight":"normal","titleColor":"#333"}},"y":{"field":"signal","type":"quantitative","scale":{"domain":[-36,99]},"axis":null}}},
 {"data":{"name":"chip"},"transform":[{"filter":"datum.row==='C'"}],"mark":{"type":"area","color":"#961e16","interpolate":"monotone"},"encoding":{"x":{"field":"bp","type":"quantitative","scale":{"domain":[0,500]},"axis":{"title":"Chr20:36255300-3625580","labels":false,"ticks":false,"domain":false,"grid":false,"titleX":629,"titleY":31,"titleAlign":"left","titleBaseline":"alphabetic","titleFont":"Liberation Sans","titleFontSize":12.5,"titleFontWeight":"normal","titleColor":"#333"}},"y":{"field":"signal","type":"quantitative","scale":{"domain":[0,135]},"axis":null}}},
 {"data":{"values":[{"track":"DNase-seq"}]},"mark":{"type":"rect","filled":false,"stroke":"#474747","strokeWidth":1.3},"encoding":{"x":{"datum":0,"type":"quantitative","scale":{"domain":[0,500]}},"x2":{"datum":500},"y":{"datum":0,"type":"quantitative","scale":{"domain":[-36,99]},"axis":null},"y2":{"datum":77}}},
 {"data":{"values":[{"track":"ChIP-seq"}]},"mark":{"type":"rect","filled":false,"stroke":"#474747","strokeWidth":1.3},"encoding":{"x":{"datum":0,"type":"quantitative","scale":{"domain":[0,500]}},"x2":{"datum":500},"y":{"datum":-36,"type":"quantitative","scale":{"domain":[-36,99]},"axis":null},"y2":{"datum":0}}},
 {"data":{"name":"motifs"},"transform":[{"filter":"datum.row==='C'"}],"mark":{"type":"rect","fill":"#ffe84a","fillOpacity":0.55,"stroke":"#d2c67e","strokeWidth":1},"encoding":{"x":{"field":"start","type":"quantitative","scale":{"domain":[0,500]}},"x2":{"field":"end"},"y":{"datum":-36,"type":"quantitative","scale":{"domain":[-36,99]},"axis":null},"y2":{"datum":77}}},
 {"data":{"name":"motifs"},"transform":[{"filter":"datum.row==='C'"}],"mark":{"type":"text","fontSize":12,"color":"#333","baseline":"middle"},"encoding":{"x":{"field":"center","type":"quantitative","scale":{"domain":[0,500]}},"y":{"datum":88,"type":"quantitative","scale":{"domain":[-36,99]},"axis":null},"text":{"field":"label"}}},
 {"data":{"values":[{"track":"DNase-seq"}]},"mark":{"type":"text","fontSize":15,"color":"#333","align":"left","baseline":"alphabetic"},"encoding":{"x":{"datum":5.5,"type":"quantitative","scale":{"domain":[0,500]}},"y":{"datum":59.3,"type":"quantitative","scale":{"domain":[-36,99]},"axis":null},"text":{"field":"track"}}},
 {"data":{"values":[{"track":"ChIP-seq"}]},"mark":{"type":"text","fontSize":15,"color":"#333","align":"left","baseline":"alphabetic"},"encoding":{"x":{"datum":5.5,"type":"quantitative","scale":{"domain":[0,500]}},"y":{"datum":-19,"type":"quantitative","scale":{"domain":[-36,99]},"axis":null},"text":{"field":"track"}}}
]},
{"width":320,"height":163,"layer":[
 {"data":{"name":"segments"},"transform":[{"filter":"datum.row==='D'"}],"mark":{"type":"rect"},"encoding":{"x":{"field":"start","type":"quantitative","scale":{"domain":[-11.11,100]},"axis":null},"x2":{"field":"end"},"y":{"datum":0,"type":"quantitative","scale":{"domain":[-13.89,42.71]},"axis":null},"y2":{"datum":6.94},"color":{"field":"kind","type":"nominal","scale":{"domain":["DNA","Motif"],"range":["#2e3192","#fff200"]},"legend":null}}},
 {"data":{"name":"segments"},"transform":[{"filter":"datum.row==='D' && datum.kind==='Motif'"}],"mark":{"type":"text","fontSize":15,"color":"#333","baseline":"alphabetic"},"encoding":{"x":{"field":"mid","type":"quantitative","scale":{"domain":[-11.11,100]},"axis":null},"y":{"datum":0.6,"type":"quantitative","scale":{"domain":[-13.89,42.71]},"axis":null},"text":{"field":"kind"}}},
 {"data":{"name":"proteins"},"transform":[{"filter":"datum.row==='D'"}],"mark":{"type":"point","shape":"M-1,0A1,0.63,0,1,1,1,0A1,0.63,0,1,1,-1,0Z","size":6178,"filled":true,"opacity":1,"strokeWidth":1},"encoding":{"x":{"field":"x","type":"quantitative","scale":{"domain":[-11.11,100]},"axis":null},"y":{"field":"y","type":"quantitative","scale":{"domain":[-13.89,42.71]},"axis":null},"fill":{"field":"name","type":"nominal","scale":{"domain":["TF","Cobinder"],"range":["#ec2a2e","#1e6b35"]},"legend":null},"stroke":{"field":"name","type":"nominal","scale":{"domain":["TF","Cobinder"],"range":["#8a1c1c","#0f3d1d"]},"legend":null}}},
 {"data":{"name":"proteins"},"transform":[{"filter":"datum.row==='D' && datum.name==='TF'"}],"mark":{"type":"text","fontSize":15,"color":"#2a0505","baseline":"middle"},"encoding":{"x":{"field":"x","type":"quantitative","scale":{"domain":[-11.11,100]},"axis":null},"y":{"field":"y","type":"quantitative","scale":{"domain":[-13.89,42.71]},"axis":null},"text":{"field":"name"}}},
 {"data":{"name":"proteins"},"transform":[{"filter":"datum.row==='D' && datum.name==='Cobinder'"}],"mark":{"type":"text","fontSize":12,"color":"#0e2a16","baseline":"middle"},"encoding":{"x":{"field":"x","type":"quantitative","scale":{"domain":[-11.11,100]},"axis":null},"y":{"field":"y","type":"quantitative","scale":{"domain":[-13.89,42.71]},"axis":null},"text":{"field":"name"}}},
 {"data":{"values":[{"label":"D"}]},"mark":{"type":"text","fontSize":25,"color":"#222","align":"left","baseline":"alphabetic"},"encoding":{"x":{"datum":-5.6,"type":"quantitative","scale":{"domain":[-11.11,100]},"axis":null},"y":{"datum":25.7,"type":"quantitative","scale":{"domain":[-13.89,42.71]},"axis":null},"text":{"field":"label"}}}
]},
{"width":784,"height":135,"resolve":{"scale":{"y":"independent"}},"layer":[
 {"data":{"name":"dnase"},"transform":[{"filter":"datum.row==='D'"}],"mark":{"type":"area","color":"#961e16","interpolate":"monotone"},"encoding":{"x":{"field":"bp","type":"quantitative","scale":{"domain":[0,800]},"axis":{"title":"Chr1:41981700-41982500","labels":false,"ticks":false,"domain":false,"grid":false,"titleX":629,"titleY":24.7,"titleAlign":"left","titleBaseline":"alphabetic","titleFont":"Liberation Sans","titleFontSize":12.5,"titleFontWeight":"normal","titleColor":"#333"}},"y":{"field":"signal","type":"quantitative","scale":{"domain":[-36,99]},"axis":null}}},
 {"data":{"name":"chip"},"transform":[{"filter":"datum.row==='D'"}],"mark":{"type":"area","color":"#961e16","interpolate":"monotone"},"encoding":{"x":{"field":"bp","type":"quantitative","scale":{"domain":[0,800]},"axis":{"title":"Chr1:41981700-41982500","labels":false,"ticks":false,"domain":false,"grid":false,"titleX":629,"titleY":24.7,"titleAlign":"left","titleBaseline":"alphabetic","titleFont":"Liberation Sans","titleFontSize":12.5,"titleFontWeight":"normal","titleColor":"#333"}},"y":{"field":"signal","type":"quantitative","scale":{"domain":[0,135]},"axis":null}}},
 {"data":{"values":[{"track":"DNase-seq"}]},"mark":{"type":"rect","filled":false,"stroke":"#474747","strokeWidth":1.3},"encoding":{"x":{"datum":0,"type":"quantitative","scale":{"domain":[0,800]}},"x2":{"datum":800},"y":{"datum":0,"type":"quantitative","scale":{"domain":[-36,99]},"axis":null},"y2":{"datum":77}}},
 {"data":{"values":[{"track":"ChIP-seq"}]},"mark":{"type":"rect","filled":false,"stroke":"#474747","strokeWidth":1.3},"encoding":{"x":{"datum":0,"type":"quantitative","scale":{"domain":[0,800]}},"x2":{"datum":800},"y":{"datum":-36,"type":"quantitative","scale":{"domain":[-36,99]},"axis":null},"y2":{"datum":0}}},
 {"data":{"name":"motifs"},"transform":[{"filter":"datum.row==='D'"}],"mark":{"type":"rect","fill":"#ffe84a","fillOpacity":0.55,"stroke":"#d2c67e","strokeWidth":1},"encoding":{"x":{"field":"start","type":"quantitative","scale":{"domain":[0,800]}},"x2":{"field":"end"},"y":{"datum":-36,"type":"quantitative","scale":{"domain":[-36,99]},"axis":null},"y2":{"datum":77}}},
 {"data":{"name":"motifs"},"transform":[{"filter":"datum.row==='D'"}],"mark":{"type":"text","fontSize":12,"color":"#333","baseline":"middle"},"encoding":{"x":{"field":"center","type":"quantitative","scale":{"domain":[0,800]}},"y":{"datum":88,"type":"quantitative","scale":{"domain":[-36,99]},"axis":null},"text":{"field":"label"}}},
 {"data":{"values":[{"track":"DNase-seq"}]},"mark":{"type":"text","fontSize":15,"color":"#333","align":"left","baseline":"alphabetic"},"encoding":{"x":{"datum":8.8,"type":"quantitative","scale":{"domain":[0,800]}},"y":{"datum":54.3,"type":"quantitative","scale":{"domain":[-36,99]},"axis":null},"text":{"field":"track"}}},
 {"data":{"values":[{"track":"ChIP-seq"}]},"mark":{"type":"text","fontSize":15,"color":"#333","align":"left","baseline":"alphabetic"},"encoding":{"x":{"datum":8.8,"type":"quantitative","scale":{"domain":[0,800]}},"y":{"datum":-18,"type":"quantitative","scale":{"domain":[-36,99]},"axis":null},"text":{"field":"track"}}}
]}
]
}
